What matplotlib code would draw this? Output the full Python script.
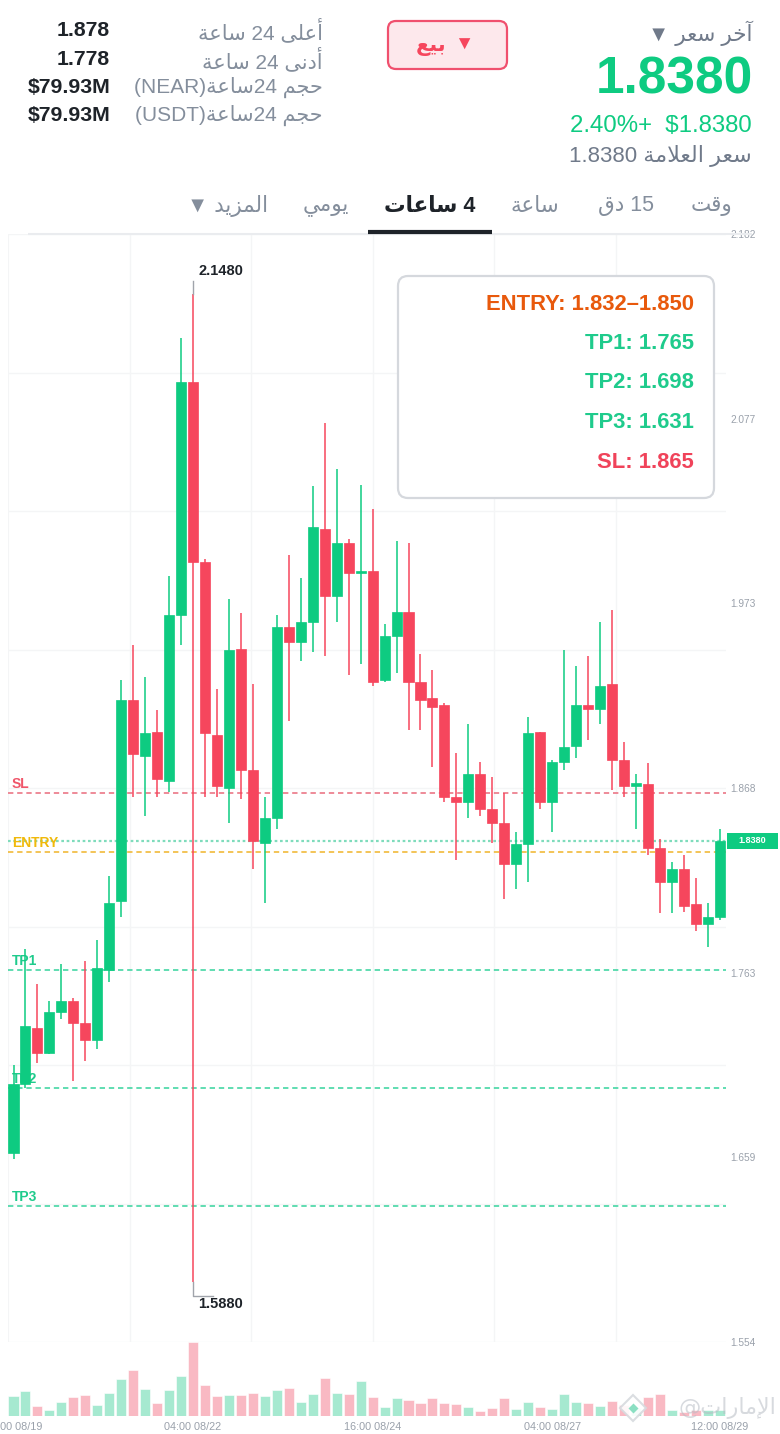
import numpy as np
import matplotlib
matplotlib.use("Agg")
import matplotlib.pyplot as plt
import matplotlib.transforms as mtransforms
from matplotlib.patches import FancyBboxPatch, Rectangle

# 4h candles, 16:00 08/19 -> 12:00 08/29
opens = [1.661, 1.700, 1.732, 1.718, 1.741, 1.747, 1.735, 1.725, 1.765, 1.804,
         1.918, 1.886, 1.900, 1.872, 1.966, 2.098, 1.996, 1.898, 1.868, 1.947,
         1.878, 1.837, 1.851, 1.959, 1.951, 1.962, 2.015, 1.977, 2.007, 1.990,
         1.991, 1.929, 1.954, 1.968, 1.928, 1.919, 1.915, 1.863, 1.860, 1.876,
         1.856, 1.848, 1.825, 1.836, 1.900, 1.860, 1.883, 1.892, 1.915, 1.913,
         1.927, 1.884, 1.869, 1.870, 1.834, 1.815, 1.822, 1.802, 1.791, 1.795]
highs = [1.711, 1.777, 1.757, 1.747, 1.768, 1.749, 1.770, 1.782, 1.818, 1.929,
         1.949, 1.931, 1.912, 1.988, 2.123, 2.148, 1.998, 1.924, 1.975, 1.967,
         1.927, 1.863, 1.966, 2.000, 1.987, 2.039, 2.075, 2.049, 2.009, 2.040,
         2.026, 1.961, 2.008, 2.007, 1.944, 1.935, 1.916, 1.888, 1.904, 1.883,
         1.874, 1.865, 1.843, 1.908, 1.900, 1.884, 1.946, 1.937, 1.943, 1.962,
         1.969, 1.894, 1.876, 1.882, 1.839, 1.826, 1.830, 1.817, 1.803, 1.845]
lows = [1.658, 1.698, 1.712, 1.717, 1.737, 1.702, 1.713, 1.720, 1.758, 1.795,
        1.863, 1.852, 1.863, 1.866, 1.949, 1.588, 1.863, 1.863, 1.848, 1.862,
        1.822, 1.803, 1.845, 1.906, 1.940, 1.945, 1.943, 1.962, 1.932, 1.938,
        1.926, 1.928, 1.933, 1.901, 1.901, 1.880, 1.860, 1.827, 1.851, 1.852,
        1.837, 1.805, 1.811, 1.815, 1.856, 1.843, 1.878, 1.885, 1.895, 1.904,
        1.867, 1.863, 1.845, 1.830, 1.797, 1.797, 1.798, 1.787, 1.778, 1.793]
closes = [1.700, 1.733, 1.718, 1.741, 1.747, 1.735, 1.725, 1.766, 1.803, 1.918,
          1.887, 1.899, 1.873, 1.966, 2.098, 1.996, 1.899, 1.869, 1.946, 1.878,
          1.838, 1.851, 1.959, 1.951, 1.962, 2.016, 1.977, 2.007, 1.990, 1.991,
          1.928, 1.954, 1.968, 1.928, 1.918, 1.914, 1.863, 1.860, 1.876, 1.856,
          1.848, 1.825, 1.836, 1.899, 1.860, 1.883, 1.891, 1.915, 1.913, 1.926,
          1.884, 1.869, 1.871, 1.834, 1.815, 1.822, 1.801, 1.791, 1.795, 1.838]
volumes = [19.7, 25, 10, 5.7, 14.3, 19, 21, 11.3, 23, 37.3,
           46.3, 27, 12.7, 25.7, 39.7, 74, 31.3, 19.7, 21, 21,
           22.7, 19.7, 26, 27.7, 14, 22, 38.3, 22.7, 22, 35,
           19, 9, 18, 15.7, 13, 18, 13, 12.3, 8.7, 4.7,
           8, 17.7, 7.3, 14, 9, 6.7, 21.7, 14, 12.7, 9.7,
           14.7, 10.7, 8, 19, 21.7, 5.7, 4, 5.7, 5.7, 6.3]

x_tick_idx = [0, 15, 30, 45, 59]
x_tick_labels = ["16:00 08/19", "04:00 08/22", "16:00 08/24", "04:00 08/27", "12:00 08/29"]

y_min, y_max = 1.554, 2.182
last_price = 1.838

level_names = ["SL", "ENTRY", "TP1", "TP2", "TP3"]
level_values = [1.865, 1.832, 1.765, 1.698, 1.631]

plan_lines = ["ENTRY: 1.832\u20131.850", "TP1: 1.765", "TP2: 1.698", "TP3: 1.631", "SL: 1.865"]

stats_labels = ["أعلى 24 ساعة", "أدنى 24 ساعة", "حجم 24ساعة(NEAR)", "حجم 24ساعة(USDT)"]
stats_values = ["1.878", "1.778", "$79.93M", "$79.93M"]
tabs = ["وقت", "15 دق", "ساعة", "4 ساعات", "يومي", "المزيد"]

GREEN = "#0ecb81"
RED = "#f6465d"
GREEN_VOL = "#a6e9d0"
RED_VOL = "#f9b9c3"
GRAY = "#848e9c"
DARK = "#1e2329"
GRID = "#f4f5f6"
LATIN = ["Liberation Sans", "DejaVu Sans"]
ARAB = ["DejaVu Sans"]

# --- tiny Arabic shaper (matplotlib has no shaping / bidi) ---
AR_FORMS = {
    "ا": (0xFE8D, 2), "أ": (0xFE83, 2), "إ": (0xFE87, 2), "آ": (0xFE81, 2),
    "ب": (0xFE8F, 4), "ة": (0xFE93, 2), "ت": (0xFE95, 4), "ث": (0xFE99, 4),
    "ج": (0xFE9D, 4), "ح": (0xFEA1, 4), "خ": (0xFEA5, 4), "د": (0xFEA9, 2),
    "ذ": (0xFEAB, 2), "ر": (0xFEAD, 2), "ز": (0xFEAF, 2), "س": (0xFEB1, 4),
    "ش": (0xFEB5, 4), "ص": (0xFEB9, 4), "ض": (0xFEBD, 4), "ط": (0xFEC1, 4),
    "ظ": (0xFEC5, 4), "ع": (0xFEC9, 4), "غ": (0xFECD, 4), "ف": (0xFED1, 4),
    "ق": (0xFED5, 4), "ك": (0xFED9, 4), "ل": (0xFEDD, 4), "م": (0xFEE1, 4),
    "ن": (0xFEE5, 4), "ه": (0xFEE9, 4), "و": (0xFEED, 2), "ى": (0xFEEF, 2),
    "ي": (0xFEF1, 4),
}
LAM_ALEF = {"آ": 0xFEF5, "أ": 0xFEF7, "إ": 0xFEF9, "ا": 0xFEFB}


def ar(text):
    chars = list(text)
    n = len(chars)
    dual = lambda c: c in AR_FORMS and AR_FORMS[c][1] == 4
    out = []
    i = 0
    while i < n:
        c = chars[i]
        if c not in AR_FORMS:
            out.append(c)
            i += 1
            continue
        prev = i > 0 and dual(chars[i - 1])
        if c == "ل" and i + 1 < n and chars[i + 1] in LAM_ALEF:
            out.append(chr(LAM_ALEF[chars[i + 1]] + (1 if prev else 0)))
            i += 2
            continue
        nxt = dual(c) and i + 1 < n and chars[i + 1] in AR_FORMS
        base, _ = AR_FORMS[c]
        k = 3 if (prev and nxt) else 2 if nxt else 1 if prev else 0
        out.append(chr(base + k))
        i += 1
    return "".join(reversed(out))


W, H = 780, 1434
fig = plt.figure(figsize=(W / 100, H / 100), dpi=100)
fig.patch.set_facecolor("white")

# pixel canvas for header / overlays
bg = fig.add_axes([0, 0, 1, 1], zorder=0)
bg.set_xlim(0, W)
bg.set_ylim(H, 0)
bg.axis("off")

# price panel
px_left, px_right, px_top, px_bot = 8, 726, 234, 1342
vol_bot = 1416
ax = fig.add_axes([px_left / W, (H - px_bot) / H, (px_right - px_left) / W, (px_bot - px_top) / H], zorder=2)
axv = fig.add_axes([px_left / W, (H - vol_bot) / H, (px_right - px_left) / W, (vol_bot - px_bot) / H], zorder=1)
for a in (ax, axv):
    a.patch.set_alpha(0)
    for s in a.spines.values():
        s.set_visible(False)

n = len(opens)
xs = np.arange(n)
step = 11.97  # px per candle
x_lo = (px_left - 13.5) / step
x_hi = (px_right - 13.5) / step
ax.set_xlim(x_lo, x_hi)
ax.set_ylim(y_min, y_max)
axv.set_xlim(x_lo, x_hi)
axv.set_ylim(0, max(volumes))

# grid
for gy in np.linspace(y_min, y_max, 9):
    ax.axhline(gy, color=GRID, lw=1, zorder=0)
for gx in [9.73, 19.84, 30.03, 40.14, 50.33]:
    ax.axvline(gx, color=GRID, lw=1, zorder=0)
ax.axvline(x_lo, color=GRID, lw=1.5, zorder=0)

# level lines
ax.axhline(level_values[0], color="#ea6b7c", lw=1.1, ls=(0, (3.5, 2.5)), zorder=1)
ax.axhline(last_price, color="#7fdcbc", lw=1.6, ls=(0, (1.2, 1.2)), zorder=1)
ax.axhline(level_values[1], color="#f0b429", lw=1.1, ls=(0, (3.5, 2.5)), zorder=1)
for v in level_values[2:]:
    ax.axhline(v, color="#34d39c", lw=1.1, ls=(0, (3.5, 2.5)), zorder=1)

lvl_trans = mtransforms.offset_copy(
    mtransforms.blended_transform_factory(ax.transAxes, ax.transData), fig=fig, x=0, y=2, units="dots")
lvl_colors = ["#f0566a", "#f0b90b", "#1fcb8c", "#1fcb8c", "#1fcb8c"]
for name, v, c in zip(level_names, level_values, lvl_colors):
    ax.text(4 / (px_right - px_left), v, name, transform=lvl_trans, color=c, fontsize=10,
            fontweight="bold", family=LATIN, ha="left", va="bottom", zorder=1.5)

# candles
colors = [GREEN if c >= o else RED for o, c in zip(opens, closes)]
ax.vlines(xs, lows, highs, colors=colors, lw=1.1, zorder=3)
bottoms = [min(o, c) for o, c in zip(opens, closes)]
heights = [max(abs(c - o), 0.0012) for o, c in zip(opens, closes)]
ax.bar(xs, heights, bottom=bottoms, width=0.84, color=colors, edgecolor=colors, lw=0.5, zorder=4)

# volume
vcolors = [GREEN_VOL if c >= o else RED_VOL for o, c in zip(opens, closes)]
axv.bar(xs, volumes, width=0.84, color=vcolors, edgecolor="white", lw=0.4)

# y labels
ax.yaxis.tick_right()
yt = np.linspace(y_min, y_max, 7)
ax.set_yticks(yt)
ax.set_yticklabels([f"{v:.3f}" for v in yt])
ax.tick_params(axis="y", length=0, pad=3, labelsize=7.3, labelcolor="#9aa1ab")
ax.set_xticks([])
for lab in ax.get_yticklabels():
    lab.set_family(LATIN)

axv.set_yticks([])
axv.set_xticks(x_tick_idx)
axv.set_xticklabels(x_tick_labels)
axv.tick_params(axis="x", length=0, pad=4.5, labelsize=7.8, labelcolor="#9aa1ab")
for lab in axv.get_xticklabels():
    lab.set_family(LATIN)


def to_px(xd, yd):
    xp, yp = ax.transData.transform((xd, yd))
    return xp, H - yp


top = fig.add_axes([0, 0, 1, 1], zorder=5)
top.set_xlim(0, W)
top.set_ylim(H, 0)
top.axis("off")
top.patch.set_alpha(0)

# last price tag
tx, ty = to_px(x_hi, last_price)
top.add_patch(Rectangle((tx + 1, ty - 8), 51, 16, fc=GREEN, ec="none"))
top.text(tx + 26.5, ty, f"{last_price:.4f}", color="white", fontsize=6.5, fontweight="bold",
         family=LATIN, ha="center", va="center")

# high / low markers
i_hi = int(np.argmax(highs))
i_lo = int(np.argmin(lows))
hx, hy = to_px(i_hi, highs[i_hi])
top.plot([hx, hx], [hy, hy - 13], color="#a0a4ab", lw=1)
top.text(hx + 5, hy - 23, f"{highs[i_hi]:.4f}", color=DARK, fontsize=10.5, fontweight="bold",
         family=LATIN, ha="left", va="center")
lx, ly = to_px(i_lo, lows[i_lo])
top.plot([lx, lx, lx + 20], [ly, ly + 14, ly + 14], color="#a0a4ab", lw=1)
top.text(lx + 5, ly + 22, f"{lows[i_lo]:.4f}", color=DARK, fontsize=10.5, fontweight="bold",
         family=LATIN, ha="left", va="center")

# trade plan box
top.add_patch(FancyBboxPatch((398, 276), 316, 222, boxstyle="round,pad=0,rounding_size=10",
                             fc="white", ec="#d5d8dd", lw=1.6))
plan_colors = ["#e8590c", "#1fcb8c", "#1fcb8c", "#1fcb8c", "#f0435a"]
for k, (t, c) in enumerate(zip(plan_lines, plan_colors)):
    top.text(694, 304 + k * 39.5, t, color=c, fontsize=15.8, fontweight="bold", family=LATIN,
             ha="right", va="center")

# watermark
top.text(776, 1408, "@" + ar("الإمارات"), color="#b7bcc4", alpha=0.55, fontsize=16,
         family=ARAB, ha="right", va="center")
top.plot([633], [1408], marker="D", ms=13, mfc="white", mec="#d7dade", mew=1.5, alpha=0.9)
top.plot([633], [1408], marker="D", ms=5, mfc="#7fdcbc", mec="none", alpha=0.9)

# header: left stats
for k, (lab, val) in enumerate(zip(stats_labels, stats_values)):
    y = 31 + k * 28.3
    top.text(110, y, val, color=DARK, fontsize=15.3, fontweight="bold", family=LATIN, ha="right", va="center")
    if k < 2:
        words = lab.split(" ")
        vis = ar(words[2]) + " " + words[1] + " " + ar(words[0])
    else:
        head, rest = lab.split(" ")
        num, tail = rest[:2], rest[2:]
        word, tag = tail.split("(")
        vis = "(" + tag + ar(word) + num + " " + ar(head)
    top.text(323, y, vis, color=GRAY, fontsize=15, family=LATIN, ha="right", va="center")

# sell button
top.add_patch(FancyBboxPatch((388, 21), 119, 48, boxstyle="round,pad=0,rounding_size=8",
                             fc="#fde8ec", ec="#f0506e", lw=1.6))
top.text(431, 46, ar("بيع"), color=RED, fontsize=15, fontweight="bold", family=ARAB, ha="center", va="center")
top.text(464, 45, "\u25bc", color=RED, fontsize=14, family=LATIN, ha="center", va="center")

# header: right price block
top.text(752, 33, "\u25bc " + ar("آخر سعر"), color="#707a8a", fontsize=15.5, family=LATIN, ha="right", va="center")
top.text(753, 80, f"{last_price:.4f}", color=GREEN, fontsize=37, fontweight="bold", family=LATIN,
         ha="right", va="center")
top.text(752, 126, "2.40%+  $1.8380", color=GREEN, fontsize=17.3, family=LATIN, ha="right", va="center")
top.text(752, 156, "1.8380 " + ar("سعر العلامة"), color="#707a8a", fontsize=16, family=LATIN,
         ha="right", va="center")

# timeframe tabs
tab_x = [712, 626, 535, 430, 326, 228]
for k, (t, x) in enumerate(zip(tabs, tab_x)):
    if " " in t:
        num, word = t.split(" ")
        vis = ar(word) + " " + num
    elif k == 5:
        vis = "\u25bc " + ar(t)
    else:
        vis = ar(t)
    sel = k == 3
    top.text(x, 206, vis, color=DARK if sel else GRAY, fontsize=15.5, fontweight="bold" if sel else "normal",
             family=LATIN, ha="center", va="center")
top.plot([28, 752], [233.5, 233.5], color="#eaecef", lw=1.5, solid_capstyle="butt")
top.plot([368, 492], [232, 232], color=DARK, lw=3, solid_capstyle="butt")

fig.savefig("out.png", dpi=100, facecolor="white")
